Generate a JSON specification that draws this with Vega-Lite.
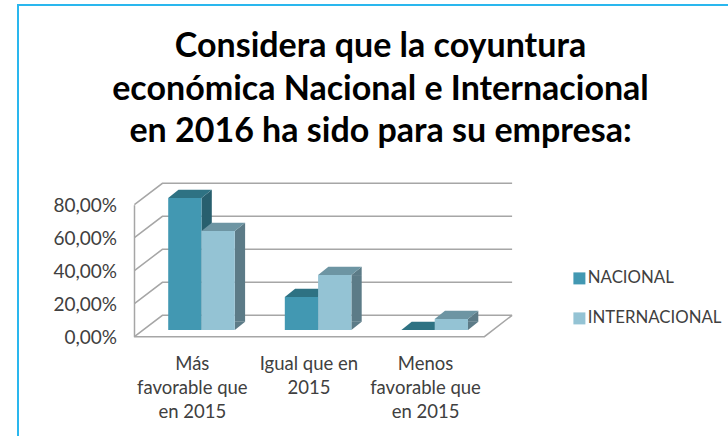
{"$schema":"https://vega.github.io/schema/vega-lite/v6.json","autosize":"none","padding":{"left":18,"top":5,"right":0,"bottom":0},"width":715,"height":445,"background":"white","config":{"view":{"stroke":"#2ab7ee","strokeWidth":2,"fill":"white"},"font":"Lato"},"title":{"text":["Considera que la coyuntura","económica Nacional e Internacional","en 2016 ha sido para su empresa:"],"anchor":"middle","frame":"group","orient":"top","font":"Lato","fontWeight":"bold","fontSize":34,"lineHeight":42.5,"color":"#000000","offset":-144,"dx":5},"datasets":{"bars":[{"categoria":"Más favorable que en 2015","serie":"NACIONAL","valor":80},{"categoria":"Igual que en 2015","serie":"NACIONAL","valor":20},{"categoria":"Menos favorable que en 2015","serie":"NACIONAL","valor":0},{"categoria":"Más favorable que en 2015","serie":"INTERNACIONAL","valor":60},{"categoria":"Igual que en 2015","serie":"INTERNACIONAL","valor":33.3},{"categoria":"Menos favorable que en 2015","serie":"INTERNACIONAL","valor":6.7}],"ticks":[{"t":0},{"t":20},{"t":40},{"t":60},{"t":80}]},"layer":[{"data":{"name":"ticks"},"mark":{"type":"point","shape":"M-183.7,0 L-155.7,-21.4 L194,-21.4","size":4,"filled":false,"stroke":"#a6a6a6","strokeWidth":1.5,"opacity":1},"encoding":{"x":{"datum":"Igual que en 2015","type":"nominal","scale":{"domain":["Más favorable que en 2015","Igual que en 2015","Menos favorable que en 2015"],"range":[125.2,475],"paddingInner":0.429,"paddingOuter":0.2145},"axis":{"title":null,"domain":false,"ticks":false,"labelAngle":0,"labelFontSize":18.5,"labelColor":"#404040","labelLineHeight":24.3,"labelLimit":0,"labelOffset":-9.2,"labelBaseline":"top","offset":-98,"labelExpr":"datum.label=='Más favorable que en 2015'?['Más','favorable que','en 2015']:datum.label=='Igual que en 2015'?['Igual que en','2015']:['Menos','favorable que','en 2015']"}},"y":{"field":"t","type":"quantitative","scale":{"domain":[0,80],"range":[331.7,199.7],"nice":false},"axis":{"title":null,"values":[0,20,40,60,80],"grid":false,"ticks":false,"domain":true,"domainColor":"#a6a6a6","domainWidth":1.5,"labelFontSize":19,"labelColor":"#404040","labelPadding":17.5,"labelOffset":0.5,"offset":-116,"labelExpr":"replace(format(datum.value,'.2f'),'.',',')+'%'"}}}},{"data":{"name":"ticks"},"transform":[{"filter":"datum.t==0"}],"mark":{"type":"point","shape":"M-183.7,0 L166.3,0 L194,-21.4","size":4,"filled":false,"stroke":"#a6a6a6","strokeWidth":1.5,"opacity":1},"encoding":{"x":{"datum":"Igual que en 2015","type":"nominal"},"y":{"field":"t","type":"quantitative"}}},{"data":{"name":"bars"},"transform":[{"filter":"datum.valor>0 && datum.serie=='NACIONAL'"}],"mark":{"type":"bar","width":10.3,"xOffset":5.15,"yOffset":-6.7,"y2Offset":-14.9,"fill":"#285f6e"},"encoding":{"x":{"field":"categoria","type":"nominal"},"y":{"field":"valor","type":"quantitative"},"y2":{"datum":0}}},{"data":{"name":"bars"},"transform":[{"filter":"datum.valor>0 && datum.serie=='INTERNACIONAL'"}],"mark":{"type":"bar","width":10.3,"xOffset":38.45,"yOffset":-6.7,"y2Offset":-14.9,"fill":"#5c7b87"},"encoding":{"x":{"field":"categoria","type":"nominal"},"y":{"field":"valor","type":"quantitative"},"y2":{"datum":0}}},{"data":{"name":"bars"},"transform":[{"filter":"datum.valor>0"}],"mark":{"type":"point","shape":"M16.65,-6.7 L26.95,-14.9 L26.95,-6.7 Z","size":4,"filled":true,"opacity":1,"strokeWidth":0},"encoding":{"x":{"field":"categoria","type":"nominal"},"xOffset":{"field":"serie","scale":{"domain":["NACIONAL","INTERNACIONAL"]}},"y":{"field":"valor","type":"quantitative"},"color":{"field":"serie","scale":{"domain":["NACIONAL","INTERNACIONAL"],"range":["#285f6e","#5c7b87"]},"legend":null}}},{"data":{"name":"bars"},"transform":[{"filter":"datum.valor>0"}],"mark":{"type":"point","shape":"M16.65,-6.7 L26.95,-14.9 L16.65,-14.9 Z","size":4,"filled":true,"opacity":1,"strokeWidth":0},"encoding":{"x":{"field":"categoria","type":"nominal"},"xOffset":{"field":"serie","scale":{"domain":["NACIONAL","INTERNACIONAL"]}},"y":{"datum":0,"type":"quantitative"},"color":{"field":"serie","scale":{"domain":["NACIONAL","INTERNACIONAL"],"range":["#285f6e","#5c7b87"]},"legend":null}}},{"data":{"name":"bars"},"mark":{"type":"point","shape":"M-16.65,-6.7 L-6.35,-14.9 L26.95,-14.9 L16.65,-6.7 Z","size":4,"filled":true,"opacity":1,"strokeWidth":0},"encoding":{"x":{"field":"categoria","type":"nominal"},"xOffset":{"field":"serie","scale":{"domain":["NACIONAL","INTERNACIONAL"]}},"y":{"field":"valor","type":"quantitative"},"color":{"field":"serie","scale":{"domain":["NACIONAL","INTERNACIONAL"],"range":["#2e7283","#6d95a3"]},"legend":null}}},{"data":{"name":"bars"},"mark":{"type":"bar","yOffset":-6.7,"y2Offset":-6.7},"encoding":{"x":{"field":"categoria","type":"nominal"},"xOffset":{"field":"serie","scale":{"domain":["NACIONAL","INTERNACIONAL"]}},"y":{"field":"valor","type":"quantitative"},"y2":{"datum":0},"color":{"field":"serie","scale":{"domain":["NACIONAL","INTERNACIONAL"],"range":["#4298b2","#94c3d4"]},"legend":{"orient":"none","legendX":553,"legendY":265,"title":null,"symbolType":"square","symbolSize":144,"symbolStrokeWidth":0,"labelFontSize":16.8,"labelColor":"#404040","labelLimit":0,"rowPadding":22,"labelOffset":0,"symbolOpacity":1}}}}],"resolve":{"scale":{"color":"independent"}}}
